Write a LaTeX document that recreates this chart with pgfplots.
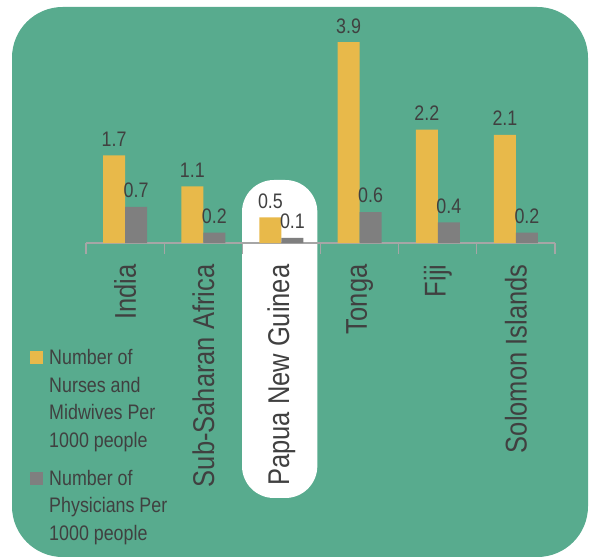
\documentclass[border=0pt]{standalone}
\usepackage{fontspec}
\setmainfont{Liberation Sans}[FakeStretch=0.85]
\usepackage{pgfplots}
\pgfplotsset{compat=1.18}
\definecolor{bggreen}{HTML}{58AB8E}
\definecolor{baryellow}{HTML}{E8B94A}
\definecolor{bargray}{HTML}{7F7F7F}
\definecolor{txtgray}{HTML}{404040}
\definecolor{axgray}{HTML}{A6A6A6}
\begin{document}
\begin{tikzpicture}
\useasboundingbox (0pt,0pt) rectangle (444.75pt,417.75pt);
\fill[bggreen, rounded corners=38pt] (9pt,0pt) rectangle (441pt,412.5pt);
\fill[white, rounded corners=24pt] (181.5pt,44.25pt) rectangle (238pt,282.75pt);
\begin{axis}[
  at={(93.83pt,235.5pt)}, anchor=origin,
  x=58.63pt, y=38.625pt,
  xmin=-0.5, xmax=5.5, ymin=0, ymax=4.2,
  clip=false,
  axis y line=none,
  axis x line*=bottom,
  x axis line style={draw=axgray, line width=0.9pt},
  ybar=0pt, bar width=16.5pt,
  xtick={0,...,5},
  xticklabels={India, Sub-Saharan Africa, Papua New Guinea, Tonga, Fiji, Solomon Islands},
  minor xtick={-0.5,0.5,...,5.5},
  xtick align=outside,
  major tick length=0pt, minor tick length=8.25pt,
  every tick/.style={draw=axgray, line width=0.9pt},
  xticklabel style={rotate=90, anchor=east, inner sep=0pt, font=\fontsize{22.5}{27}\selectfont, text=txtgray},
  xticklabel shift=16pt,
  nodes near coords,
  nodes near coords style={font=\fontsize{15.75}{18}\selectfont, text=txtgray, inner sep=1pt, yshift=5.5pt},
  /pgf/number format/.cd, fixed, fixed zerofill, precision=1, assume math mode=true,
  /pgfplots/.cd,
  legend image code/.code={\fill[#1] (0pt,-12.5pt) rectangle (9.75pt,-2.75pt);},
  legend cell align=left,
  legend style={at={(axis description cs:-0.128,-0.47)}, anchor=north west, draw=none, fill=none,
    font=\fontsize{15.75}{20.8}\selectfont, text=txtgray,
    cells={anchor=north west},
    nodes={align=left, inner sep=1pt},
    row sep=13pt, column sep=3.5pt},
]
\addplot[fill=baryellow, draw=none] coordinates {(0,1.7) (1,1.1) (2,0.5) (3,3.9) (4,2.2) (5,2.1)};
\addlegendentry{Number of\\Nurses and\\Midwives Per\\1000 people}
\addplot[fill=bargray, draw=none] coordinates {(0,0.7) (1,0.2) (2,0.1) (3,0.6) (4,0.4) (5,0.2)};
\addlegendentry{Number of\\Physicians Per\\1000 people}
\end{axis}
\end{tikzpicture}
\end{document}
